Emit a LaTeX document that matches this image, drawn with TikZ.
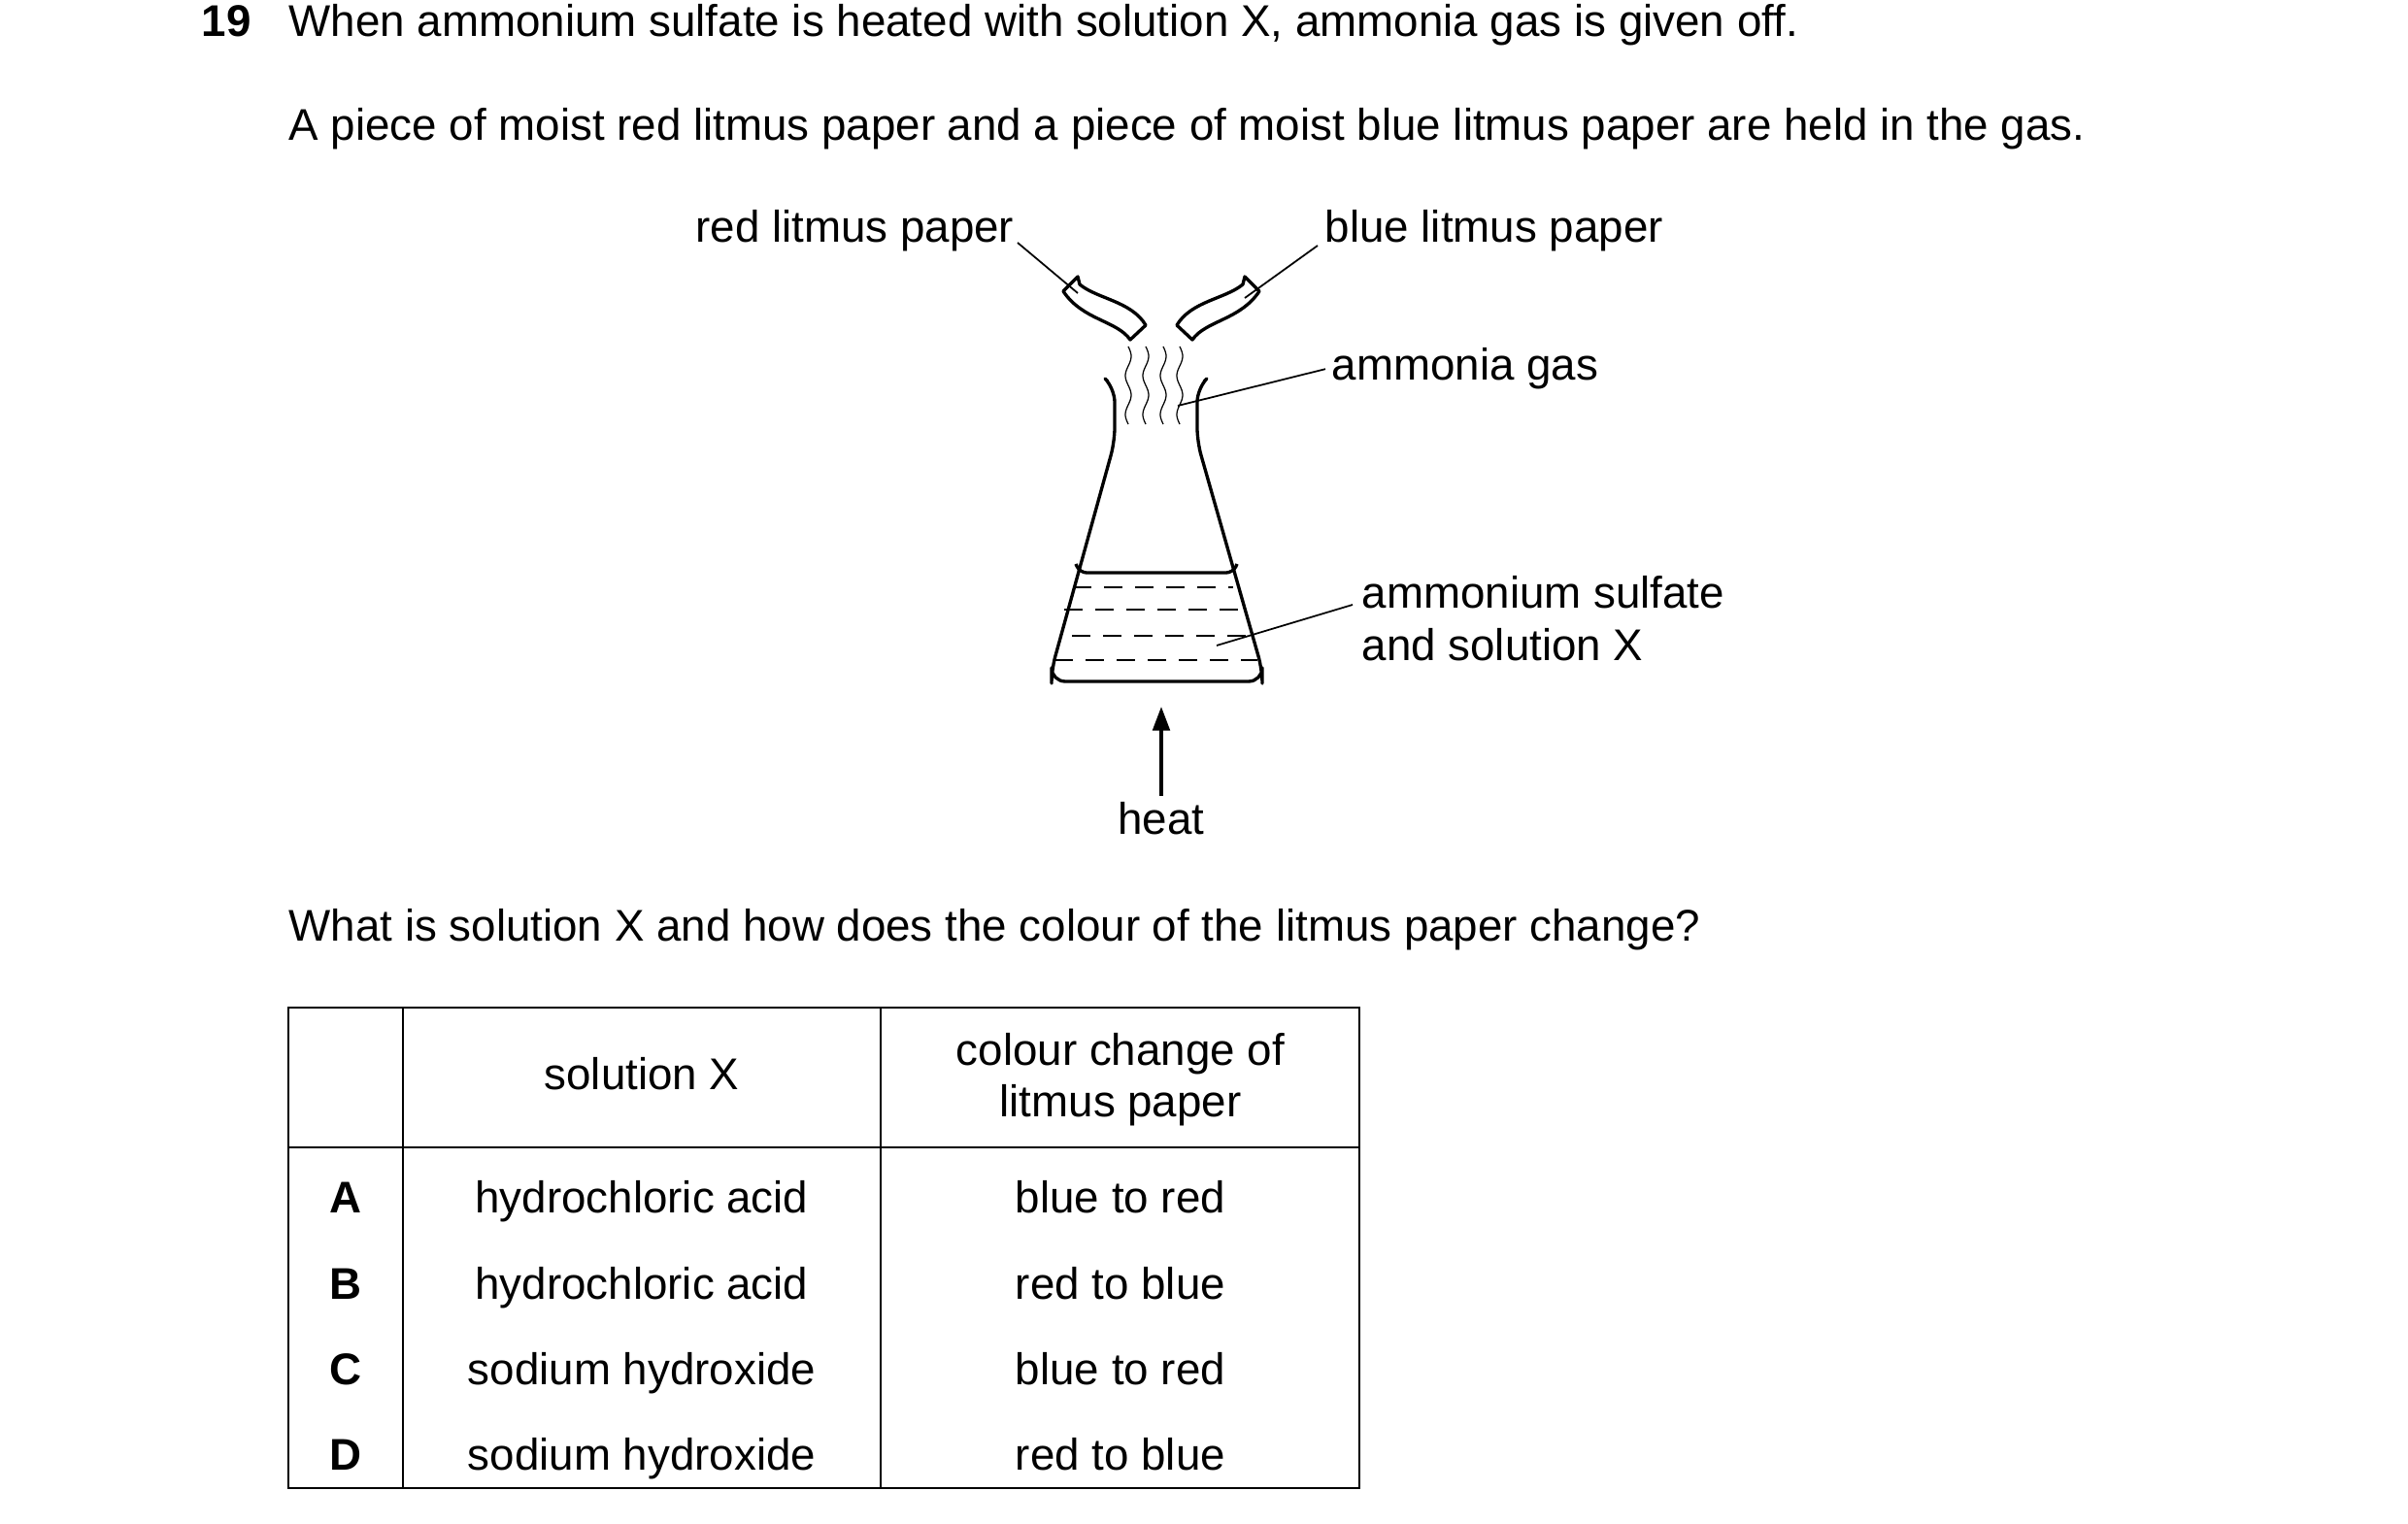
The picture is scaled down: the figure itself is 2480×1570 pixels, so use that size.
\documentclass[tikz,border=0pt]{standalone}
\usepackage{fontspec}
\setmainfont{Liberation Sans}
\usetikzlibrary{arrows.meta}
\tikzset{
  txt/.style={inner sep=0pt,font=\fontsize{13}{15}\selectfont},
  glass/.style={line width=0.95pt,line join=round},
  lead/.style={line width=0.5pt},
  liquid/.style={line width=0.5pt,dash pattern=on 1.9mm off 1.3mm},
}
\begin{document}
\begin{tikzpicture}[x=0.01cm,y=-0.01cm]
\useasboundingbox (0,0) rectangle (2480,1570);

\node[txt,anchor=base west,font=\fontsize{13}{15}\selectfont\bfseries] (qnum) at (207,38) {19};
\node[txt,anchor=base west] (line1) at (297,38) {When ammonium sulfate is heated with solution X, ammonia gas is given off.};
\node[txt,anchor=base west] (line2) at (297,145) {A piece of moist red litmus paper and a piece of moist blue litmus paper are held in the gas.};

% flask
\draw[glass,rounded corners=4pt] (1141,393) -- (1148,400) -- (1148,455) -- (1083,690) -- (1083,702) -- (1300,702) -- (1300,690) -- (1233,455) -- (1233,400) -- (1240,393);
\draw[glass,rounded corners=2pt] (1108,581) -- (1112,590) -- (1270,590) -- (1274,581);
\draw[liquid] (1105,605) -- (1270,605);
\draw[liquid] (1096,628) -- (1276,628);
\draw[liquid] (1104,655) -- (1290,655);
\draw[liquid] (1086,680) -- (1295,680);

% gas
\foreach \x in {1162,1180,1198,1215}
  \draw[line width=0.35pt] plot[domain=357:437,samples=40,variable=\t] ({\x+3*sin((\t-357)*9)},\t);

% litmus papers
\draw[glass] (1095,300) -- (1110,285) -- (1112,293) .. controls (1130,308) and (1165,310) .. (1180,335) -- (1164,350) .. controls (1150,330) and (1115,330) .. cycle;
\begin{scope}[shift={(2392,0)},xscale=-1]
\draw[glass] (1095,300) -- (1110,285) -- (1112,293) .. controls (1130,308) and (1165,310) .. (1180,335) -- (1164,350) .. controls (1150,330) and (1115,330) .. cycle;
\end{scope}

% labels
\node[txt,anchor=base east] (red) at (1045,250) {red litmus paper};
\node[txt,anchor=base west] (blue) at (1364,250) {blue litmus paper};
\node[txt,anchor=base west] (gas) at (1371,392) {ammonia gas};
\node[txt,anchor=base west] (salt) at (1402,627) {ammonium sulfate};
\node[txt,anchor=base west] (salt2) at (1402,681) {and solution X};
\coordinate (redp) at (1110,302);
\coordinate (bluep) at (1282,307);
\coordinate (gasp) at (1213,418);
\coordinate (saltp) at (1253,665);
\draw[lead] (1048,250) -- (redp);
\draw[lead] (1357,253) -- (bluep);
\draw[lead] (gas.west) ++(-6,0) -- (gasp);
\draw[lead] (1393,623) -- (saltp);

% heat
\node[txt,anchor=base] (heat) at (1196,860) {heat};
\coordinate (heattip) at (1196,728);
\draw[line width=0.95pt,-{Triangle[length=7pt,width=5pt]}] (1196,820) -- (heattip);

\node[txt,anchor=base west] (quest) at (297,970) {What is solution X and how does the colour of the litmus paper change?};

% table
\draw[lead,line width=0.6pt] (297,1038) rectangle (1400,1533);
\draw[lead,line width=0.6pt] (297,1182) -- (1400,1182);
\draw[lead,line width=0.6pt] (415,1038) -- (415,1533);
\draw[lead,line width=0.6pt] (907,1038) -- (907,1533);
\node[txt,anchor=base] (hsol) at (661,1123) {solution X};
\node[txt,anchor=base] (hcol1) at (1154,1097) {colour change of};
\node[txt,anchor=base] (hcol2) at (1154,1150) {litmus paper};
\foreach \l/\s/\c [count=\i from 0] in {A/hydrochloric acid/blue to red,B/hydrochloric acid/red to blue,C/sodium hydroxide/blue to red,D/sodium hydroxide/red to blue}{
  \node[txt,anchor=base,font=\fontsize{13}{15}\selectfont\bfseries] (let\l) at (356,1250+88*\i) {\l};
  \node[txt,anchor=base] (sol\l) at (661,1250+88*\i) {\s};
  \node[txt,anchor=base] (col\l) at (1154,1250+88*\i) {\c};
}
\end{tikzpicture}
\end{document}
